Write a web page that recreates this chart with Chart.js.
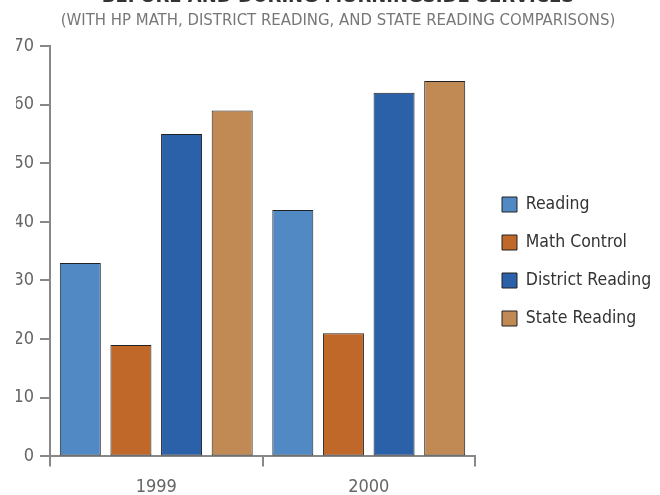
<!DOCTYPE html>
<html><head><meta charset="utf-8">
<script src="https://cdn.jsdelivr.net/npm/chart.js@4"></script>
<style>
html,body{margin:0;padding:0;overflow:hidden;background:#fff;width:660px;height:495px;}
#wrap{position:absolute;left:0;top:-15px;width:660px;height:523px;}
</style></head><body>
<div id="wrap"><canvas id="c" width="660" height="523"></canvas></div>
<script>
const categories = ["1999", "2000"];
const seriesNames = ["Reading", "Math Control", "District Reading", "State Reading"];
const reading = [33, 42];
const mathControl = [19, 21];
const districtReading = [55, 62];
const stateReading = [59, 64];
const yTicks = [0, 10, 20, 30, 40, 50, 60, 70];
const titleText = "BEFORE AND DURING MORNINGSIDE SERVICES";
const subtitleText = "(WITH HP MATH, DISTRICT READING, AND STATE READING COMPARISONS)";

const colors = ["#5189C4", "#C0672A", "#2A61A9", "#C18A55"];
const FONT = "'DejaVu Sans Condensed', 'Liberation Sans', sans-serif";
const values = [reading, mathControl, districtReading, stateReading];

const layoutTweak = {
  id: 'layoutTweak',
  afterLayout(chart) {
    const lg = chart.legend;
    if (lg) { lg.left += 6.5; lg.right = chart.width; lg.width = lg.right - lg.left; lg.top += 15; lg.bottom += 15; }
    chart.boxes.forEach(b => {
      if (b !== lg && b.options && typeof b.options.text === 'string') { b.left += 16; b.right += 16; }
    });
  }
};

new Chart(document.getElementById('c'), {
  type: 'bar',
  data: {
    labels: categories,
    datasets: seriesNames.map((n, i) => ({
      label: n,
      data: values[i],
      backgroundColor: colors[i],
      borderColor: '#222',
      borderWidth: 1,
      borderSkipped: false,
      categoryPercentage: 0.953,
      barPercentage: 0.81
    }))
  },
  options: {
    responsive: false,
    animation: false,
    layout: { padding: { left: 16, right: 32, top: 0, bottom: 0 } },
    plugins: {
      title: { display: true, text: titleText, color: '#333', font: { family: FONT, size: 20, weight: 'bold' }, padding: { top: 0, bottom: 2 } },
      subtitle: { display: true, text: subtitleText, color: '#777', font: { family: FONT, size: 16.6 }, padding: { top: 0, bottom: 15 } },
      legend: {
        position: 'right',
        labels: { color: '#333', font: { family: FONT, size: 17.5 }, boxWidth: 15, boxHeight: 15, padding: 20.5 }
      },
      tooltip: { enabled: false }
    },
    scales: {
      x: {
        offset: true,
        grid: { display: true, offset: true, drawOnChartArea: false, tickLength: 10, color: '#888', lineWidth: 2 },
        border: { color: '#888', width: 2 },
        ticks: { color: '#666', font: { family: FONT, size: 18 }, padding: 10 }
      },
      y: {
        min: 0, max: 70,
        afterBuildTicks(s) { s.ticks = yTicks.map(v => ({ value: v })); },
        afterFit(s) { s.width = 34; },
        grid: { display: true, drawOnChartArea: false, tickLength: 10, color: '#888', lineWidth: 2 },
        border: { color: '#888', width: 2 },
        ticks: { color: '#666', font: { family: FONT, size: 18 }, padding: 6 }
      }
    }
  },
  plugins: [layoutTweak]
});
</script>
</body></html>
